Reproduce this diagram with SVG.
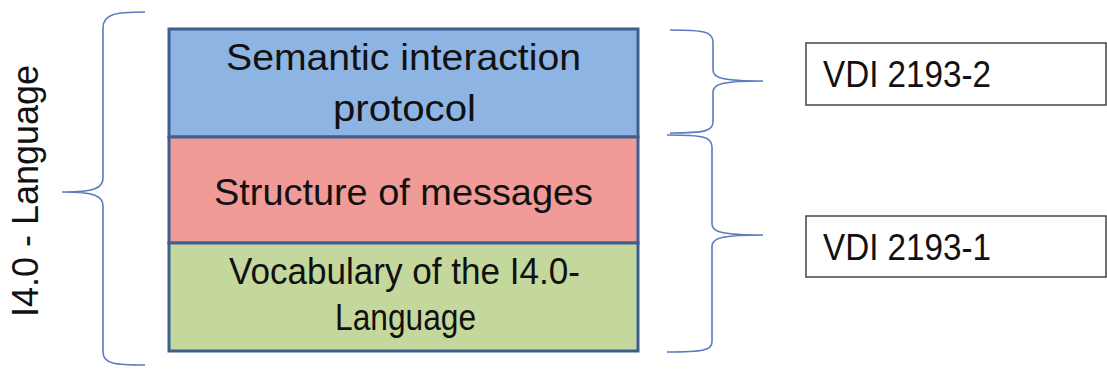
<svg xmlns="http://www.w3.org/2000/svg" width="1107" height="369" viewBox="0 0 1107 369">
<style>
.layer{stroke:#3C5F8E;stroke-width:3}
.t{font-family:"Liberation Sans",Arial,sans-serif;font-size:36px;fill:#111}
.brace{fill:none;stroke:#5B7BBE;stroke-width:1.6}
.vdi{fill:#fff;stroke:#444;stroke-width:1.5}
</style>
<rect width="1107" height="369" fill="#fff"/>
<g id="label-language">
<text class="t" transform="translate(38,191) rotate(-90)" text-anchor="middle" font-size="33" textLength="252" lengthAdjust="spacingAndGlyphs">I4.0 - Language</text>
</g>
<g id="connectors">
<path class="brace" d="M145,12 C115,12 103,14 103,28 L103,178 C103,188 95,192 62,192 C95,192 103,196 103,206 L103,352 C103,364 115,365 145,365"/>
<path class="brace" d="M670,30 C705,30 713,32 713,42 L713,70 C713,78 722,81 763,81 C722,81 713,84 713,92 L713,122 C713,131 705,133 670,133"/>
<path class="brace" d="M667,135 C704,135 712,137 712,147 L712,224 C712,232 722,235 763,235 C722,235 712,238 712,246 L712,342 C712,350 704,352 667,352"/>
</g>
<g id="layer-protocol">
<rect class="layer" x="169" y="29" width="469" height="108" fill="#8EB4E3"/>
<text class="t" x="403.5" y="70" text-anchor="middle" textLength="355" lengthAdjust="spacingAndGlyphs">Semantic interaction</text>
<text class="t" x="404.5" y="121" text-anchor="middle" textLength="143" lengthAdjust="spacingAndGlyphs">protocol</text>
</g>
<g id="layer-structure">
<rect class="layer" x="169" y="137" width="469" height="106" fill="#F09B97"/>
<text class="t" x="403.5" y="205" text-anchor="middle" textLength="379" lengthAdjust="spacingAndGlyphs">Structure of messages</text>
</g>
<g id="layer-vocabulary">
<rect class="layer" x="169" y="243" width="469" height="108" fill="#C4D79C"/>
<text class="t" x="404.5" y="284" text-anchor="middle" textLength="351" lengthAdjust="spacingAndGlyphs">Vocabulary of the I4.0-</text>
<text class="t" x="405.5" y="330" text-anchor="middle" textLength="141" lengthAdjust="spacingAndGlyphs">Language</text>
</g>
<g id="vdi-2">
<rect class="vdi" x="806" y="43" width="300" height="62"/>
<text class="t" x="823" y="87" font-size="33" textLength="168" lengthAdjust="spacingAndGlyphs">VDI 2193-2</text>
</g>
<g id="vdi-1">
<rect class="vdi" x="806" y="216" width="300" height="61"/>
<text class="t" x="823" y="260" font-size="33" textLength="168" lengthAdjust="spacingAndGlyphs">VDI 2193-1</text>
</g>
</svg>
